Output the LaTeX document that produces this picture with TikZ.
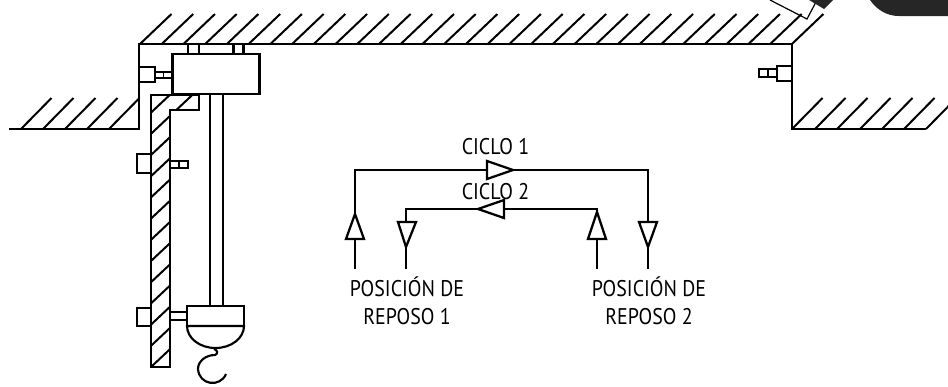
\documentclass[tikz,border=0pt]{standalone}
\usepackage{fontspec}
\setmainfont[FakeStretch=0.88]{PT Sans}
\usetikzlibrary{positioning,calc}
\def\px{0.75pt}
\tikzset{
  wall/.style={line width=1.8pt,line cap=rect},
  hatchline/.style={line width=1.5pt},
  partbox/.style={draw,line width=1.7pt,fill=white,inner sep=0pt},
  flowline/.style={line width=1.7pt},
  flowtip/.style={draw,line width=1.7pt,fill=white,line join=miter},
  lbl/.style={inner sep=0pt,font=\fontsize{17}{21}\selectfont,align=center}
}
\begin{document}
\begin{tikzpicture}[x=0.75pt,y=-0.75pt]
   \useasboundingbox (0,0) rectangle (948,386);

   % techo y suelos
   \foreach \i in {0,...,30} \draw[hatchline] (140+\i*21.73,44) -- (171.5+\i*21.73,14);
   \foreach \hx in {21,43,65,87,109} \draw[hatchline] (\hx,129) -- (\hx+30.5,98);
   \foreach \hx in {792,815,837,860,882,904,926} \draw[hatchline] (\hx,129) -- (\hx+30.5,98);
   \draw[wall] (10,129) -- (139,129) -- (139,44) -- (792,44) -- (792,129) -- (925,129);

   % columna con rayado
   \begin{scope}
     \clip (151,95) -- (199,95) -- (199,110) -- (170,110) -- (170,367) -- (151,367) -- cycle;
     \foreach \i in {0,...,13} \draw[hatchline] (151,367-\i*21.2) -- (201,320-\i*21.2);
   \end{scope}
   \draw[wall] (170,367) -- (151,367) -- (151,95) -- (199,95) -- (199,110) -- (170,110) -- cycle;

   % carro
   \draw[flowline] (210,95) -- (210,306);
   \draw[flowline] (223,95) -- (223,306);
   \node[partbox,minimum width=87*\px,minimum height=40*\px] (cart) at (216,74) {};
   \node[partbox,minimum width=11*\px,minimum height=10*\px] (top1) at (193.5,49) {};
   \node[partbox,minimum width=10*\px,minimum height=10*\px] (top2) at (238.5,49) {};
   \node[partbox,minimum width=16*\px,minimum height=15*\px] (lbox) at (147,74.5) {};
   \node[partbox,minimum width=17*\px,minimum height=6*\px] (lpin) at (163.5,75) {};
   \draw[line width=1.3pt] (lpin.north) -- (lpin.south);

   % soportes de la columna
   \node[partbox,minimum width=14*\px,minimum height=19*\px] (mbox) at (144,163.5) {};
   \node[partbox,minimum width=18*\px,minimum height=7*\px] (mpin) at (179,164.5) {};
   \draw[line width=1.3pt] (mpin.north) -- (mpin.south);
   \node[partbox,minimum width=14*\px,minimum height=18*\px] (bbox) at (144,317) {};
   \node[partbox,minimum width=17*\px,minimum height=8*\px] (bpin) at (178.5,316) {};

   % gancho
   \draw[wall,fill=white] (187,326) -- (187,306) -- (244,306) -- (244,326);
   \draw[line width=1.6pt,fill=white] (187,326) -- (244,326) arc[start angle=0,end angle=180,x radius=28.5,y radius=22] -- cycle;
   \draw[line width=1.6pt] (214,349) .. controls (218,350) and (218,354) .. (215,355)
      .. controls (206,355) and (198,361) .. (198,369) .. controls (199,385) and (220,388) .. (226,374);

   % derecha
   \node[partbox,minimum width=15*\px,minimum height=15*\px] (rbox) at (784.5,73.5) {};
   \node[partbox,minimum width=18*\px,minimum height=8*\px] (rpin) at (768,73) {};
   \draw[line width=1.3pt] (rpin.north) -- (rpin.south);

   % fragmento arriba a la derecha
   \draw[line width=0.9pt] (770,0) -- (807,19) -- (817,0);
   \fill[black!85] (809,0) -- (833,0) -- (824,9) -- cycle;
   \fill[black!85] (870,0) .. controls (877,10) and (887,16) .. (899,16) -- (948,16) -- (948,0) -- cycle;

   % ciclos
   \coordinate (c1a) at (355,269);
   \coordinate (c1b) at (355,170);
   \coordinate (c1c) at (648,170);
   \coordinate (c1d) at (648,269);
   \coordinate (c2a) at (406,269);
   \coordinate (c2b) at (406,209);
   \coordinate (c2c) at (597,209);
   \coordinate (c2d) at (597,269);
   \draw[flowline] (c1a) -- (c1b) -- (c1c) -- (c1d);
   \draw[flowline] (c2a) -- (c2b) -- (c2c) -- (c2d);
   \draw[flowtip] (487,161) -- (513,170) -- (487,179) -- cycle;
   \draw[flowtip] (504,200) -- (478,209) -- (504,218) -- cycle;
   \draw[flowtip] (355,214) -- (346,239) -- (364,239) -- cycle;
   \draw[flowtip] (597,212) -- (588,239) -- (606,239) -- cycle;
   \draw[flowtip] (406,247) -- (398,222) -- (416,222) -- cycle;
   \draw[flowtip] (648,247) -- (639,222) -- (657,222) -- cycle;

   \node[lbl] (ciclo1) at (495.5,147) {CICLO 1};
   \node[lbl] (ciclo2) at (495.5,192) {CICLO 2};
   \node[lbl] (rep1) at (407,301) {POSICIÓN DE\\REPOSO 1};
   \node[lbl] (rep2) at (649,301) {POSICIÓN DE\\REPOSO 2};
\end{tikzpicture}
\end{document}
